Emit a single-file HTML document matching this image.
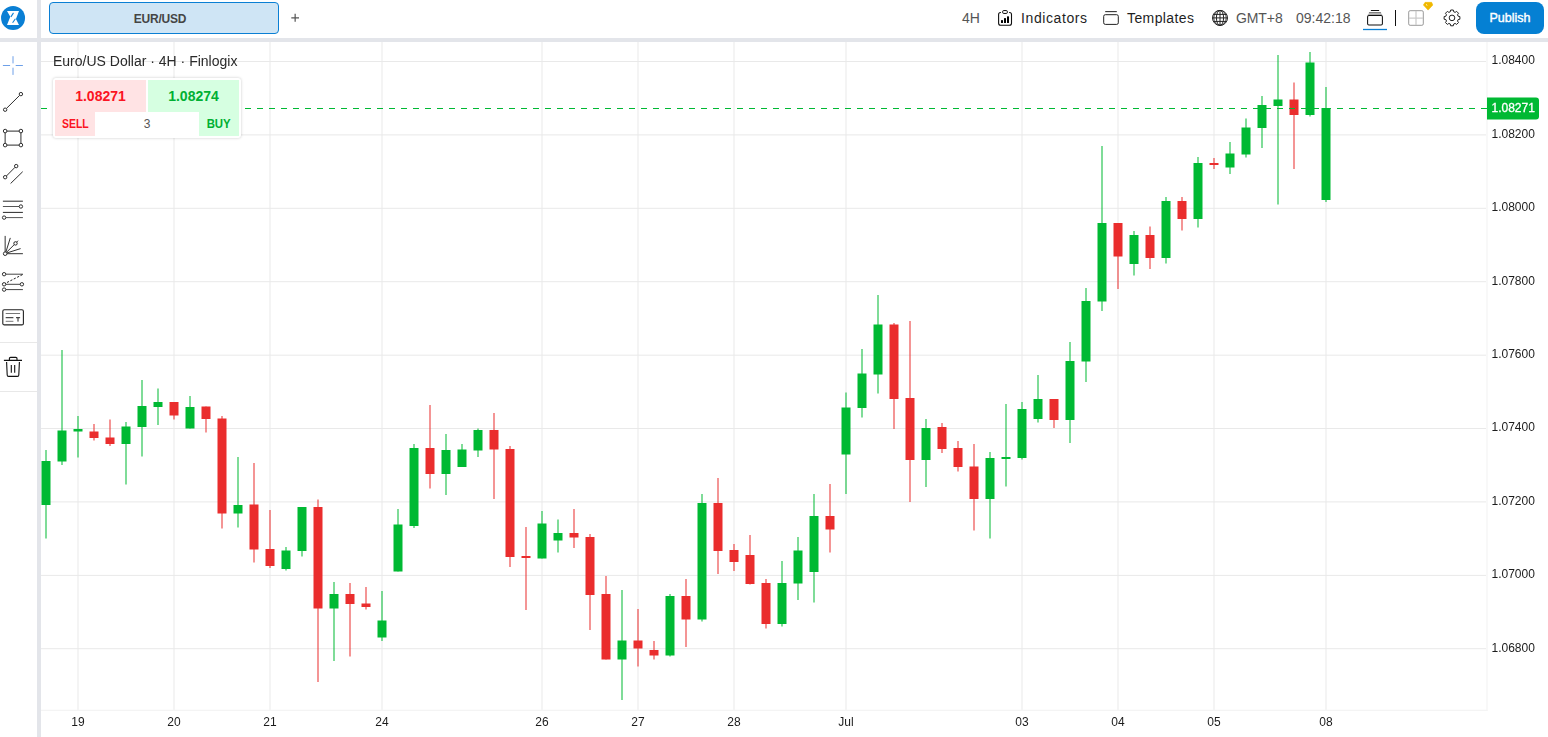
<!DOCTYPE html>
<html>
<head>
<meta charset="utf-8">
<title>EUR/USD chart</title>
<style>
html,body{margin:0;padding:0;}
body{width:1548px;height:737px;position:relative;overflow:hidden;background:#fff;font-family:"Liberation Sans",sans-serif;color:#222;}
.abs{position:absolute;}
.chart{position:absolute;left:0;top:0;}
.vbar{position:absolute;left:37px;top:0;width:4px;height:737px;background:#e3e5ea;}
.hbar{position:absolute;left:0;top:38px;width:1548px;height:4px;background:#e3e5ea;}
.tab{position:absolute;left:49px;top:2px;width:228px;height:30px;border:1px solid #0a7fd4;border-radius:4px;background:#cfe5f5;}
.tabtxt{position:absolute;left:49px;top:2px;width:222px;height:32px;line-height:35px;text-align:center;font-weight:bold;font-size:12px;letter-spacing:-0.25px;color:#454545;}
.tb{position:absolute;top:0;height:38px;line-height:36px;font-size:14px;white-space:nowrap;}
.publish{position:absolute;left:1476px;top:2px;width:68px;height:32px;border-radius:8px;background:#0580d3;color:#fff;font-weight:normal;font-size:12.5px;letter-spacing:0px;-webkit-text-stroke:0.4px #fff;text-align:center;line-height:33px;}
.legend{position:absolute;left:53px;top:52px;font-size:14px;line-height:18px;color:#2a2a2a;white-space:nowrap;opacity:0.999;}
.panel{position:absolute;left:53px;top:78px;width:188px;height:60px;background:#fff;border-radius:3px;box-shadow:0 0 3px rgba(0,0,0,0.22);}
.cell{position:absolute;}
.sellbg{background:#ffe3e4;}
.buybg{background:#d6ffe1;}
.price{font-weight:bold;font-size:14px;letter-spacing:0px;text-align:center;line-height:32px;}
.lbl{font-weight:bold;font-size:12px;text-align:center;line-height:24px;}
.icons{position:absolute;left:0;top:42px;}
.sep{position:absolute;left:0;width:37px;height:1px;background:#e8e8e8;}
</style>
</head>
<body>
<svg class="chart" width="1548" height="737" viewBox="0 0 1548 737">
<g stroke="#e9e9e9" stroke-width="1">
<line x1="78" y1="42" x2="78" y2="710"/>
<line x1="174" y1="42" x2="174" y2="710"/>
<line x1="270" y1="42" x2="270" y2="710"/>
<line x1="382" y1="42" x2="382" y2="710"/>
<line x1="542" y1="42" x2="542" y2="710"/>
<line x1="638" y1="42" x2="638" y2="710"/>
<line x1="734" y1="42" x2="734" y2="710"/>
<line x1="846" y1="42" x2="846" y2="710"/>
<line x1="1022" y1="42" x2="1022" y2="710"/>
<line x1="1118" y1="42" x2="1118" y2="710"/>
<line x1="1214" y1="42" x2="1214" y2="710"/>
<line x1="1326" y1="42" x2="1326" y2="710"/>
</g>
<g stroke="#e9e9e9" stroke-width="1">
<line x1="41" y1="61.5" x2="1486" y2="61.5"/>
<line x1="41" y1="134.9" x2="1486" y2="134.9"/>
<line x1="41" y1="208.3" x2="1486" y2="208.3"/>
<line x1="41" y1="281.7" x2="1486" y2="281.7"/>
<line x1="41" y1="355.2" x2="1486" y2="355.2"/>
<line x1="41" y1="428.5" x2="1486" y2="428.5"/>
<line x1="41" y1="501.9" x2="1486" y2="501.9"/>
<line x1="41" y1="575.4" x2="1486" y2="575.4"/>
<line x1="41" y1="648.7" x2="1486" y2="648.7"/>
</g>
<line x1="1487" y1="42" x2="1487" y2="711" stroke="#f1f1f1" stroke-width="1"/>
<line x1="41" y1="710.4" x2="1487.5" y2="710.4" stroke="#f4f4f4" stroke-width="1.2"/>
<g clip-path="url(#pane)">
<clipPath id="pane"><rect x="41" y="42" width="1446" height="668"/></clipPath>
<rect x="45.5" y="450.0" width="1" height="88.5" fill="#00b933"/>
<rect x="61.5" y="350.0" width="1" height="115.0" fill="#00b933"/>
<rect x="77.5" y="416.0" width="1" height="41.5" fill="#00b933"/>
<rect x="93.5" y="424.0" width="1" height="16.5" fill="#ea2d2d"/>
<rect x="109.5" y="419.5" width="1" height="26.5" fill="#ea2d2d"/>
<rect x="125.5" y="422.0" width="1" height="62.5" fill="#00b933"/>
<rect x="141.5" y="380.0" width="1" height="76.5" fill="#00b933"/>
<rect x="157.5" y="388.5" width="1" height="36.5" fill="#00b933"/>
<rect x="173.5" y="402.0" width="1" height="17.5" fill="#ea2d2d"/>
<rect x="189.5" y="396.0" width="1" height="32.5" fill="#00b933"/>
<rect x="205.5" y="406.5" width="1" height="26.0" fill="#ea2d2d"/>
<rect x="221.5" y="416.0" width="1" height="112.5" fill="#ea2d2d"/>
<rect x="237.5" y="457.0" width="1" height="70.5" fill="#00b933"/>
<rect x="253.5" y="463.0" width="1" height="99.5" fill="#ea2d2d"/>
<rect x="269.5" y="510.0" width="1" height="58.0" fill="#ea2d2d"/>
<rect x="285.5" y="547.0" width="1" height="23.5" fill="#00b933"/>
<rect x="301.5" y="507.0" width="1" height="49.5" fill="#00b933"/>
<rect x="317.5" y="499.5" width="1" height="182.5" fill="#ea2d2d"/>
<rect x="333.5" y="582.0" width="1" height="79.0" fill="#00b933"/>
<rect x="349.5" y="583.0" width="1" height="73.5" fill="#ea2d2d"/>
<rect x="365.5" y="587.0" width="1" height="22.5" fill="#ea2d2d"/>
<rect x="381.5" y="591.0" width="1" height="50.0" fill="#00b933"/>
<rect x="397.5" y="509.0" width="1" height="62.5" fill="#00b933"/>
<rect x="413.5" y="444.0" width="1" height="84.0" fill="#00b933"/>
<rect x="429.5" y="405.0" width="1" height="83.5" fill="#ea2d2d"/>
<rect x="445.5" y="434.0" width="1" height="61.0" fill="#00b933"/>
<rect x="461.5" y="444.0" width="1" height="23.0" fill="#00b933"/>
<rect x="477.5" y="428.5" width="1" height="28.5" fill="#00b933"/>
<rect x="493.5" y="413.0" width="1" height="86.0" fill="#ea2d2d"/>
<rect x="509.5" y="446.0" width="1" height="121.0" fill="#ea2d2d"/>
<rect x="525.5" y="527.0" width="1" height="83.0" fill="#ea2d2d"/>
<rect x="541.5" y="511.0" width="1" height="47.5" fill="#00b933"/>
<rect x="557.5" y="519.5" width="1" height="33.0" fill="#00b933"/>
<rect x="573.5" y="509.0" width="1" height="39.0" fill="#ea2d2d"/>
<rect x="589.5" y="534.0" width="1" height="96.0" fill="#ea2d2d"/>
<rect x="605.5" y="576.0" width="1" height="83.5" fill="#ea2d2d"/>
<rect x="621.5" y="590.0" width="1" height="110.0" fill="#00b933"/>
<rect x="637.5" y="609.0" width="1" height="57.5" fill="#ea2d2d"/>
<rect x="653.5" y="641.0" width="1" height="18.5" fill="#ea2d2d"/>
<rect x="669.5" y="594.0" width="1" height="62.5" fill="#00b933"/>
<rect x="685.5" y="579.0" width="1" height="68.0" fill="#ea2d2d"/>
<rect x="701.5" y="494.0" width="1" height="127.5" fill="#00b933"/>
<rect x="717.5" y="478.0" width="1" height="96.0" fill="#ea2d2d"/>
<rect x="733.5" y="544.0" width="1" height="27.0" fill="#ea2d2d"/>
<rect x="749.5" y="535.0" width="1" height="49.5" fill="#ea2d2d"/>
<rect x="765.5" y="579.0" width="1" height="49.5" fill="#ea2d2d"/>
<rect x="781.5" y="561.0" width="1" height="65.5" fill="#00b933"/>
<rect x="797.5" y="537.0" width="1" height="63.0" fill="#00b933"/>
<rect x="813.5" y="494.0" width="1" height="108.5" fill="#00b933"/>
<rect x="829.5" y="484.0" width="1" height="68.5" fill="#ea2d2d"/>
<rect x="845.5" y="392.5" width="1" height="101.5" fill="#00b933"/>
<rect x="861.5" y="349.0" width="1" height="68.5" fill="#00b933"/>
<rect x="877.5" y="295.0" width="1" height="98.5" fill="#00b933"/>
<rect x="893.5" y="323.0" width="1" height="106.0" fill="#ea2d2d"/>
<rect x="909.5" y="321.0" width="1" height="181.0" fill="#ea2d2d"/>
<rect x="925.5" y="419.0" width="1" height="68.0" fill="#00b933"/>
<rect x="941.5" y="423.0" width="1" height="30.0" fill="#ea2d2d"/>
<rect x="957.5" y="441.0" width="1" height="30.5" fill="#ea2d2d"/>
<rect x="973.5" y="444.0" width="1" height="86.5" fill="#ea2d2d"/>
<rect x="989.5" y="452.0" width="1" height="86.5" fill="#00b933"/>
<rect x="1005.5" y="404.0" width="1" height="82.5" fill="#00b933"/>
<rect x="1021.5" y="402.0" width="1" height="57.5" fill="#00b933"/>
<rect x="1037.5" y="375.0" width="1" height="47.5" fill="#00b933"/>
<rect x="1053.5" y="399.0" width="1" height="29.0" fill="#ea2d2d"/>
<rect x="1069.5" y="342.0" width="1" height="101.0" fill="#00b933"/>
<rect x="1085.5" y="288.0" width="1" height="94.0" fill="#00b933"/>
<rect x="1101.5" y="146.0" width="1" height="165.0" fill="#00b933"/>
<rect x="1117.5" y="223.0" width="1" height="66.0" fill="#ea2d2d"/>
<rect x="1133.5" y="231.0" width="1" height="44.5" fill="#00b933"/>
<rect x="1149.5" y="226.5" width="1" height="42.5" fill="#ea2d2d"/>
<rect x="1165.5" y="197.0" width="1" height="66.5" fill="#00b933"/>
<rect x="1181.5" y="197.0" width="1" height="33.5" fill="#ea2d2d"/>
<rect x="1197.5" y="157.0" width="1" height="70.5" fill="#00b933"/>
<rect x="1213.5" y="158.0" width="1" height="11.0" fill="#ea2d2d"/>
<rect x="1229.5" y="142.0" width="1" height="32.0" fill="#00b933"/>
<rect x="1245.5" y="118.5" width="1" height="39.0" fill="#00b933"/>
<rect x="1261.5" y="96.0" width="1" height="52.0" fill="#00b933"/>
<rect x="1277.5" y="55.0" width="1" height="149.5" fill="#00b933"/>
<rect x="1293.5" y="82.5" width="1" height="86.5" fill="#ea2d2d"/>
<rect x="1309.5" y="52.0" width="1" height="64.5" fill="#00b933"/>
<rect x="1325.5" y="87.0" width="1" height="115.0" fill="#00b933"/>
<rect x="41.5" y="461.0" width="9" height="44.0" fill="#00b933"/>
<rect x="57.5" y="430.5" width="9" height="31.0" fill="#00b933"/>
<rect x="73.5" y="429.0" width="9" height="2.5" fill="#00b933"/>
<rect x="89.5" y="431.5" width="9" height="6.5" fill="#ea2d2d"/>
<rect x="105.5" y="437.5" width="9" height="6.5" fill="#ea2d2d"/>
<rect x="121.5" y="426.5" width="9" height="17.5" fill="#00b933"/>
<rect x="137.5" y="406.0" width="9" height="21.0" fill="#00b933"/>
<rect x="153.5" y="402.0" width="9" height="5.0" fill="#00b933"/>
<rect x="169.5" y="402.0" width="9" height="13.5" fill="#ea2d2d"/>
<rect x="185.5" y="407.0" width="9" height="21.5" fill="#00b933"/>
<rect x="201.5" y="406.5" width="9" height="12.5" fill="#ea2d2d"/>
<rect x="217.5" y="418.5" width="9" height="95.0" fill="#ea2d2d"/>
<rect x="233.5" y="505.0" width="9" height="8.5" fill="#00b933"/>
<rect x="249.5" y="504.5" width="9" height="45.0" fill="#ea2d2d"/>
<rect x="265.5" y="549.0" width="9" height="17.0" fill="#ea2d2d"/>
<rect x="281.5" y="550.5" width="9" height="18.5" fill="#00b933"/>
<rect x="297.5" y="507.0" width="9" height="44.0" fill="#00b933"/>
<rect x="313.5" y="507.0" width="9" height="101.5" fill="#ea2d2d"/>
<rect x="329.5" y="594.0" width="9" height="14.5" fill="#00b933"/>
<rect x="345.5" y="594.0" width="9" height="10.0" fill="#ea2d2d"/>
<rect x="361.5" y="603.5" width="9" height="3.5" fill="#ea2d2d"/>
<rect x="377.5" y="620.5" width="9" height="17.0" fill="#00b933"/>
<rect x="393.5" y="524.5" width="9" height="47.0" fill="#00b933"/>
<rect x="409.5" y="448.0" width="9" height="78.0" fill="#00b933"/>
<rect x="425.5" y="448.0" width="9" height="26.0" fill="#ea2d2d"/>
<rect x="441.5" y="450.0" width="9" height="24.0" fill="#00b933"/>
<rect x="457.5" y="449.5" width="9" height="17.5" fill="#00b933"/>
<rect x="473.5" y="430.0" width="9" height="20.5" fill="#00b933"/>
<rect x="489.5" y="430.0" width="9" height="19.5" fill="#ea2d2d"/>
<rect x="505.5" y="449.0" width="9" height="108.0" fill="#ea2d2d"/>
<rect x="521.5" y="556.0" width="9" height="2.0" fill="#ea2d2d"/>
<rect x="537.5" y="523.5" width="9" height="35.0" fill="#00b933"/>
<rect x="553.5" y="533.0" width="9" height="7.5" fill="#00b933"/>
<rect x="569.5" y="533.0" width="9" height="4.5" fill="#ea2d2d"/>
<rect x="585.5" y="537.0" width="9" height="58.0" fill="#ea2d2d"/>
<rect x="601.5" y="594.0" width="9" height="65.5" fill="#ea2d2d"/>
<rect x="617.5" y="640.5" width="9" height="19.0" fill="#00b933"/>
<rect x="633.5" y="640.5" width="9" height="8.0" fill="#ea2d2d"/>
<rect x="649.5" y="650.0" width="9" height="5.5" fill="#ea2d2d"/>
<rect x="665.5" y="596.0" width="9" height="59.5" fill="#00b933"/>
<rect x="681.5" y="596.0" width="9" height="23.5" fill="#ea2d2d"/>
<rect x="697.5" y="503.0" width="9" height="116.5" fill="#00b933"/>
<rect x="713.5" y="503.0" width="9" height="48.0" fill="#ea2d2d"/>
<rect x="729.5" y="550.0" width="9" height="12.0" fill="#ea2d2d"/>
<rect x="745.5" y="555.0" width="9" height="29.0" fill="#ea2d2d"/>
<rect x="761.5" y="583.0" width="9" height="41.0" fill="#ea2d2d"/>
<rect x="777.5" y="583.0" width="9" height="41.0" fill="#00b933"/>
<rect x="793.5" y="550.5" width="9" height="33.0" fill="#00b933"/>
<rect x="809.5" y="516.0" width="9" height="56.0" fill="#00b933"/>
<rect x="825.5" y="516.0" width="9" height="13.5" fill="#ea2d2d"/>
<rect x="841.5" y="407.5" width="9" height="47.0" fill="#00b933"/>
<rect x="857.5" y="373.5" width="9" height="34.5" fill="#00b933"/>
<rect x="873.5" y="324.5" width="9" height="50.0" fill="#00b933"/>
<rect x="889.5" y="324.5" width="9" height="74.5" fill="#ea2d2d"/>
<rect x="905.5" y="398.0" width="9" height="62.0" fill="#ea2d2d"/>
<rect x="921.5" y="428.0" width="9" height="32.0" fill="#00b933"/>
<rect x="937.5" y="427.0" width="9" height="22.0" fill="#ea2d2d"/>
<rect x="953.5" y="448.0" width="9" height="19.0" fill="#ea2d2d"/>
<rect x="969.5" y="466.5" width="9" height="32.5" fill="#ea2d2d"/>
<rect x="985.5" y="458.0" width="9" height="41.0" fill="#00b933"/>
<rect x="1001.5" y="457.0" width="9" height="2.0" fill="#00b933"/>
<rect x="1017.5" y="409.0" width="9" height="49.0" fill="#00b933"/>
<rect x="1033.5" y="399.0" width="9" height="20.0" fill="#00b933"/>
<rect x="1049.5" y="399.0" width="9" height="21.0" fill="#ea2d2d"/>
<rect x="1065.5" y="361.0" width="9" height="59.0" fill="#00b933"/>
<rect x="1081.5" y="301.0" width="9" height="60.5" fill="#00b933"/>
<rect x="1097.5" y="223.0" width="9" height="78.5" fill="#00b933"/>
<rect x="1113.5" y="223.0" width="9" height="33.5" fill="#ea2d2d"/>
<rect x="1129.5" y="235.0" width="9" height="29.0" fill="#00b933"/>
<rect x="1145.5" y="235.0" width="9" height="23.0" fill="#ea2d2d"/>
<rect x="1161.5" y="201.0" width="9" height="57.0" fill="#00b933"/>
<rect x="1177.5" y="201.0" width="9" height="18.0" fill="#ea2d2d"/>
<rect x="1193.5" y="163.0" width="9" height="56.0" fill="#00b933"/>
<rect x="1209.5" y="163.0" width="9" height="2.0" fill="#ea2d2d"/>
<rect x="1225.5" y="153.5" width="9" height="14.0" fill="#00b933"/>
<rect x="1241.5" y="127.5" width="9" height="27.0" fill="#00b933"/>
<rect x="1257.5" y="105.0" width="9" height="23.0" fill="#00b933"/>
<rect x="1273.5" y="99.5" width="9" height="6.5" fill="#00b933"/>
<rect x="1289.5" y="99.5" width="9" height="15.5" fill="#ea2d2d"/>
<rect x="1305.5" y="62.5" width="9" height="52.5" fill="#00b933"/>
<rect x="1321.5" y="108.0" width="9" height="92.0" fill="#00b933"/>
<line x1="41" y1="108.5" x2="1487" y2="108.5" stroke="#00b933" stroke-width="1" stroke-dasharray="6 6"/>
</g>
<path d="M1487 97.5 H1536 a3 3 0 0 1 3 3 V116.5 a3 3 0 0 1 -3 3 H1487 Z" fill="#00b933"/>
</svg>

<!-- separators -->
<div class="hbar"></div>
<div class="vbar"></div>

<!-- logo -->
<svg class="abs" style="left:0;top:0" width="28" height="36" viewBox="0 0 28 36">
  <circle cx="13.05" cy="18.05" r="12" fill="#0a7fd4"/>
  <path d="M7 11 H19 L15.95 18.9 L19 24.9 H7 L10.3 16.8 Z" fill="#fff"/>
  <path d="M13.5 12.9 L10.9 16.9" stroke="#0a7fd4" stroke-width="1.05"/>
  <path d="M15.4 18.8 L12.6 22.7" stroke="#0a7fd4" stroke-width="1.05"/>
</svg>

<!-- tab -->
<div class="tab"></div>
<div class="tabtxt">EUR/USD</div>
<svg class="abs" style="left:289px;top:11px" width="13" height="13" viewBox="0 0 13 13"><path d="M2.3 6.8 H10 M6.15 2.8 V10.8" stroke="#555" stroke-width="1.2" fill="none"/></svg>

<!-- right toolbar -->
<div class="tb" style="left:962px;color:#555;">4H</div>
<svg class="abs" style="left:996px;top:8px" width="20" height="20" viewBox="0 0 20 20" fill="none" stroke="#111" stroke-width="1.1">
  <path d="M4.9 4.45 H4.6 a2 2 0 0 0 -2 2 V15.25 a2 2 0 0 0 2 2 H13.5 a2 2 0 0 0 2 -2 V6.45 a2 2 0 0 0 -2 -2 H13.1"/>
  <rect x="6.6" y="2.55" width="4.8" height="2.9" rx="1.2" stroke-width="1"/>
  <g stroke="none" fill="#000"><rect x="5" y="12" width="2" height="3" rx="0.6"/><rect x="8" y="10" width="2" height="5" rx="0.6"/><rect x="11" y="8.2" width="2" height="6.8" rx="0.6"/></g>
</svg>
<div class="tb" style="left:1021px;color:#1f1f1f;letter-spacing:0.6px;">Indicators</div>
<svg class="abs" style="left:1101px;top:8px" width="20" height="20" viewBox="0 0 20 20" fill="none" stroke="#222" stroke-width="1.1">
  <path d="M4.2 3.6 H15.8" stroke="#333"/>
  <rect x="2.7" y="6.7" width="14.6" height="9.7" rx="1.6" stroke-width="1"/>
</svg>
<div class="tb" style="left:1127px;color:#1f1f1f;letter-spacing:0.4px;">Templates</div>
<svg class="abs" style="left:1210px;top:8px" width="20" height="20" viewBox="0 0 20 20" fill="none" stroke="#222" stroke-width="1">
  <circle cx="10" cy="9.9" r="7.5"/>
  <ellipse cx="10" cy="9.9" rx="3.6" ry="7.5"/>
  <ellipse cx="10" cy="9.9" rx="6.2" ry="7.5" stroke-width="0.8"/>
  <path d="M10 2.4 V17.4 M2.5 9.9 H17.5 M3.6 6.4 H16.4 M3.6 13.4 H16.4"/>
</svg>
<div class="tb" style="left:1236px;color:#555;letter-spacing:-0.1px;">GMT+8</div>
<div class="tb" style="left:1296px;color:#555;letter-spacing:0px;">09:42:18</div>
<svg class="abs" style="left:1362px;top:6px" width="28" height="28" viewBox="0 0 28 28" fill="none">
  <path d="M9.3 4.5 H16.7" stroke="#111" stroke-width="1.1" stroke-linecap="round"/>
  <path d="M7.4 6.7 H18.6" stroke="#555" stroke-width="1.1" stroke-linecap="round"/>
  <path d="M7 7.2 H19 L20.4 9 H5.6 Z" fill="#aaa"/>
  <rect x="5.6" y="9.4" width="14.8" height="9.7" rx="1.3" stroke="#111" stroke-width="1.05" fill="#fff"/>
  <path d="M1 23.5 H25" stroke="#0a7fd4" stroke-width="1.3"/>
</svg>
<div class="abs" style="left:1395px;top:10px;width:1px;height:16px;background:#111;"></div>
<svg class="abs" style="left:1406px;top:0px" width="30" height="30" viewBox="0 0 30 30" fill="none">
  <rect x="2.7" y="10.7" width="14.6" height="14.6" rx="1.4" stroke="#9a9a9a" stroke-width="1"/>
  <path d="M10 11 V25 M3 18 H17" stroke="#cbcbcb" stroke-width="1.25"/>
  <path d="M19.1 2.35 H25.6 L26.8 5 L22.1 10.1 L17.4 5 Z" fill="#f0b800" stroke="#f0b800" stroke-width="0.6" stroke-linejoin="round"/>
  <path d="M20.3 4 L21.1 5.8" stroke="#fde9a8" stroke-width="0.9"/>
</svg>
<svg class="abs" style="left:1442px;top:8px" width="20" height="20" viewBox="0 0 20 20" fill="none" stroke="#222" stroke-width="1" stroke-linejoin="round">
  <circle cx="10" cy="9.9" r="2.8"/>
  <path d="M8.30 3.78 L8.68 2.01 L11.32 2.01 L11.70 3.78 L13.13 4.37 L14.65 3.39 L16.51 5.25 L15.53 6.77 L16.12 8.20 L17.89 8.58 L17.89 11.22 L16.12 11.60 L15.53 13.03 L16.51 14.55 L14.65 16.41 L13.13 15.43 L11.70 16.02 L11.32 17.79 L8.68 17.79 L8.30 16.02 L6.87 15.43 L5.35 16.41 L3.49 14.55 L4.47 13.03 L3.88 11.60 L2.11 11.22 L2.11 8.58 L3.88 8.20 L4.47 6.77 L3.49 5.25 L5.35 3.39 L6.87 4.37 Z"/>
</svg>
<div class="publish">Publish</div>

<!-- left toolbar icons (svg origin at page 0,42) -->
<svg class="icons" width="37" height="360" viewBox="0 42 37 360" fill="none" stroke="#2e2e2e" stroke-width="1">
  <!-- crosshair -->
  <path d="M2.9 65.5 H10.1 M15.7 65.5 H22.9" stroke="#6ea0e8"/>
  <path d="M13 56.2 V63.4 M13 67.7 V74.9" stroke="#6ea0e8"/>
  <!-- trend line -->
  <path d="M6.4 108.5 L19.7 95.3"/>
  <circle cx="20.9" cy="94.1" r="1.7" fill="#fff"/><circle cx="5.15" cy="109.7" r="1.7" fill="#fff"/>
  <!-- rectangle -->
  <path d="M5.15 131.05 H20.9 V145.1 H5.15 Z" stroke="#555" stroke-width="1.2"/>
  <g fill="#fff"><circle cx="5.15" cy="131.05" r="1.8"/><circle cx="20.9" cy="131.05" r="1.8"/><circle cx="5.15" cy="145.1" r="1.8"/><circle cx="20.9" cy="145.1" r="1.8"/></g>
  <!-- parallel channel -->
  <path d="M6.4 176 L15 167.3 M22.7 171.7 L10.6 183.5"/>
  <circle cx="16.2" cy="166.1" r="1.7" fill="#fff"/><circle cx="5.15" cy="177.2" r="1.7" fill="#fff"/>
  <!-- fib retracement -->
  <path d="M2.9 201.2 H22.9 M2.9 212.4 H22.9" stroke="#111" stroke-width="0.9"/>
  <path d="M2.9 206.5 H19.2 M5.8 217.6 H22.9" stroke="#555"/>
  <circle cx="20.9" cy="206.5" r="1.7" fill="#fff"/><circle cx="4.1" cy="217.6" r="1.7" fill="#fff"/>
  <!-- fan -->
  <path d="M5.15 235.9 V252 M5.8 252.3 L10.3 237.9 M6.3 252.5 L14.4 244.5 M16.6 242.2 L18 240.7 M6.7 253 L20.6 248.6 M6.9 253.7 H22.9" stroke="#333"/>
  <circle cx="15.5" cy="243.4" r="1.7" fill="#fff" stroke="#222"/><circle cx="5.15" cy="253.7" r="1.8" fill="#fff"/>
  <!-- fib extension -->
  <path d="M5.9 274.2 H22.9 M5.9 284.3 H20.1 M5.9 289.6 H22.9" stroke="#444"/>
  <path d="M22.5 274.6 L5 283.5" stroke-dasharray="2.2 1.6" stroke="#222" stroke-width="1"/>
  <circle cx="4.1" cy="274.2" r="1.7" fill="#fff"/><circle cx="4.1" cy="284.3" r="1.7" fill="#fff"/><circle cx="21.9" cy="284.3" r="1.7" fill="#fff"/><circle cx="4.1" cy="289.6" r="1.7" fill="#fff"/>
  <!-- text box -->
  <rect x="2.8" y="309.7" width="20.6" height="15.2" rx="1.5" stroke="#222" stroke-width="1.1"/>
  <path d="M5.7 313.5 H20.1 M5.7 321.3 H13.4" stroke="#777"/>
  <path d="M5.7 317.7 H13.4 M16 317.7 H20.1 M18 317.7 V321.6" stroke="#222"/>
  <!-- trash -->
  <path d="M3.9 360.4 H22 M9.4 360.4 V358.6 a1.2 1.2 0 0 1 1.2 -1.2 H15.8 a1.2 1.2 0 0 1 1.2 1.2 V360.4" stroke="#111" stroke-width="1.1"/>
  <path d="M6.6 362 L7.2 375 a1.4 1.4 0 0 0 1.4 1.4 H17.4 a1.4 1.4 0 0 0 1.4 -1.4 L19.4 362" stroke="#111" stroke-width="1.1"/>
  <path d="M11.3 365 V372.8 M14.7 365 V372.8" stroke="#111" stroke-width="1.1"/>
</svg>
<div class="sep" style="top:342px"></div>
<div class="sep" style="top:391px"></div>

<!-- legend + trade widget -->
<div class="panel">
  <div class="cell sellbg price" style="left:2px;top:2px;width:91px;height:32px;color:#fb1422;">1.08271</div>
  <div class="cell buybg price" style="left:95px;top:2px;width:91px;height:32px;color:#00b033;">1.08274</div>
  <div class="cell sellbg lbl" style="left:2px;top:34px;width:40px;height:24px;color:#fb1422;"><span style="display:inline-block;transform:scaleX(0.87);">SELL</span></div>
  <div class="cell lbl" style="left:42px;top:34px;width:104px;height:24px;color:#555;font-weight:normal;font-size:12px;">3</div>
  <div class="cell buybg lbl" style="left:146px;top:34px;width:40px;height:24px;color:#00b033;"><span style="display:inline-block;transform:scaleX(0.95);">BUY</span></div>
</div>
<svg class="chart" style="will-change:transform;pointer-events:none" width="1548" height="737" viewBox="0 0 1548 737">
<text x="53" y="66" font-family="Liberation Sans, sans-serif" font-size="14" fill="#2a2a2a">Euro/US Dollar · 4H · Finlogix</text>
<g font-family="Liberation Sans, sans-serif" font-size="12" fill="#1c1c1c">
<text x="1491.5" y="64">1.08400</text>
<text x="1491.5" y="138">1.08200</text>
<text x="1491.5" y="211">1.08000</text>
<text x="1491.5" y="285">1.07800</text>
<text x="1491.5" y="358">1.07600</text>
<text x="1491.5" y="431">1.07400</text>
<text x="1491.5" y="505">1.07200</text>
<text x="1491.5" y="578">1.07000</text>
<text x="1491.5" y="652">1.06800</text>
<text x="78" y="726" text-anchor="middle">19</text>
<text x="174" y="726" text-anchor="middle">20</text>
<text x="270" y="726" text-anchor="middle">21</text>
<text x="382" y="726" text-anchor="middle">24</text>
<text x="542" y="726" text-anchor="middle">26</text>
<text x="638" y="726" text-anchor="middle">27</text>
<text x="734" y="726" text-anchor="middle">28</text>
<text x="846" y="726" text-anchor="middle">Jul</text>
<text x="1022" y="726" text-anchor="middle">03</text>
<text x="1118" y="726" text-anchor="middle">04</text>
<text x="1214" y="726" text-anchor="middle">05</text>
<text x="1326" y="726" text-anchor="middle">08</text>
<text x="1491.5" y="112" fill="#fff" stroke="#fff" stroke-width="0.3">1.08271</text>
</g>
</svg>
</body>
</html>
